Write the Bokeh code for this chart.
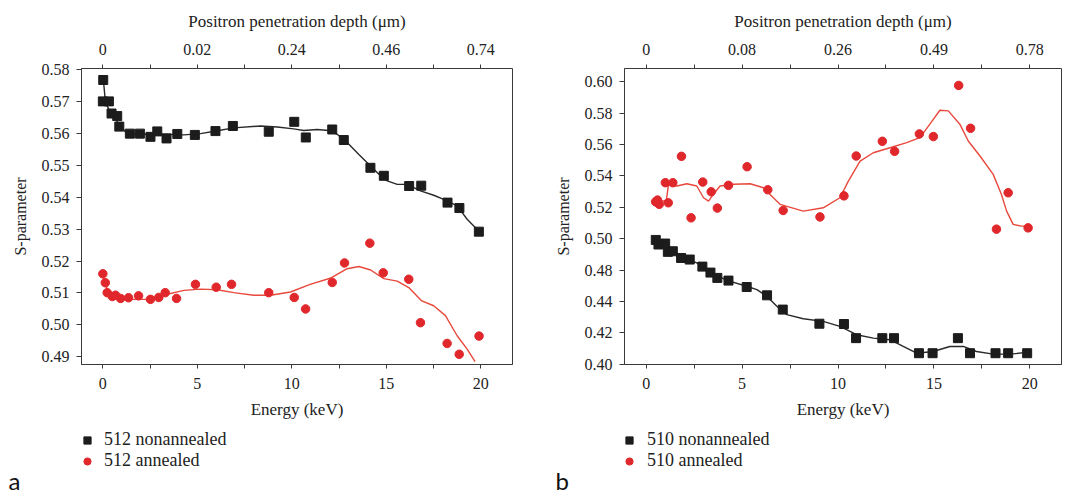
from bokeh.plotting import figure
from bokeh.layouts import row, column
from bokeh.models import (LinearAxis, FixedTicker, Legend, LegendItem, Label, Range1d)
from bokeh.embed import file_html
from bokeh.resources import INLINE

# ---------------- Panel a (sample 512) ----------------
e512_na = [0.02, 0.0, 0.32, 0.46, 0.76, 0.87, 1.43, 1.96, 2.52, 2.88, 3.37, 3.94, 4.87, 5.96,
           6.88, 8.78, 10.13, 10.74, 12.14, 12.75, 14.16, 14.87, 16.21, 16.85, 18.24, 18.87, 19.9]
s512_na = [0.5767, 0.570, 0.570, 0.5662, 0.5654, 0.5621, 0.5599, 0.5599, 0.5589, 0.5606, 0.5584,
           0.5598, 0.5595, 0.5607, 0.5623, 0.5605, 0.5636, 0.5587, 0.5612, 0.5579, 0.5492, 0.5467,
           0.5435, 0.5436, 0.5383, 0.5366, 0.5292]
e512_a = [0.0, 0.13, 0.23, 0.5, 0.67, 0.94, 1.36, 1.89, 2.52, 2.96, 3.3, 3.9, 4.9, 6.0, 6.81,
          8.78, 10.13, 10.73, 12.14, 12.79, 14.13, 14.84, 16.19, 16.81, 18.22, 18.86, 19.91]
s512_a = [0.5160, 0.5132, 0.5101, 0.5089, 0.5093, 0.5083, 0.5085, 0.5091, 0.5080, 0.5086, 0.5101,
          0.5083, 0.5127, 0.5118, 0.5127, 0.5101, 0.5086, 0.5050, 0.5133, 0.5194, 0.5256, 0.5163,
          0.5143, 0.5007, 0.4942, 0.4908, 0.4965]
# fitted curves
fit512_na_e = [0.05, 0.14, 0.32, 0.58, 0.85, 1.2, 1.64, 2.52, 3.41, 4.29, 5.17, 6.05, 6.93, 8.34,
               9.23, 10.1, 10.63, 11.34, 11.96, 12.4, 12.93, 13.55, 13.99, 14.52, 15.05, 15.58,
               16.1, 16.81, 17.51, 18.04, 18.75, 19.28, 19.81]
fit512_na_s = [0.5753, 0.5696, 0.5675, 0.5654, 0.5628, 0.5604, 0.5597, 0.5597, 0.5597, 0.5595,
               0.5599, 0.5608, 0.5617, 0.5623, 0.5620, 0.5614, 0.5609, 0.5612, 0.5609, 0.5597,
               0.5571, 0.5534, 0.5508, 0.5477, 0.5451, 0.5440, 0.5440, 0.5420, 0.5406, 0.5393,
               0.5373, 0.5331, 0.5299]
fit512_a_e = [0.0, 0.16, 0.32, 0.74, 1.29, 2.52, 3.41, 4.29, 5.17, 6.05, 6.93, 7.99, 8.87, 9.93,
              10.97, 12.03, 12.93, 13.55, 14.17, 14.87, 15.58, 16.19, 16.88, 17.51, 18.13, 18.75,
              19.28, 19.7]
fit512_a_s = [0.5154, 0.5122, 0.5101, 0.5086, 0.5080, 0.5080, 0.5096, 0.5108, 0.5112, 0.5110,
              0.5101, 0.5093, 0.5093, 0.5103, 0.5127, 0.5146, 0.5176, 0.5183, 0.5172, 0.5145,
              0.5137, 0.5117, 0.5075, 0.5060, 0.5029, 0.4966, 0.4924, 0.4885]

# ---------------- Panel b (sample 510) ----------------
# vertical values are positions on panel b's printed scale (its labels skip 0.46)
e510_na = [0.5, 0.64, 0.99, 1.13, 1.39, 1.82, 2.27, 2.93, 3.35, 3.71, 4.29, 5.24, 6.3, 7.12,
           9.03, 10.31, 10.94, 12.31, 12.92, 14.22, 14.93, 16.25, 16.88, 18.21, 18.87, 19.86]
s510_na = [0.4992, 0.4963, 0.4969, 0.4916, 0.4920, 0.4877, 0.4867, 0.4822, 0.4784, 0.4750,
           0.4733, 0.4692, 0.4639, 0.4548, 0.4458, 0.4456, 0.4366, 0.4366, 0.4366, 0.4270,
           0.4270, 0.4366, 0.4270, 0.4270, 0.4270, 0.4270]
e510_a = [0.49, 0.59, 0.68, 1.0, 1.15, 1.39, 1.84, 2.34, 2.95, 3.39, 3.71, 4.29, 5.26, 6.34,
          7.14, 9.06, 10.31, 10.95, 12.31, 12.95, 14.24, 14.97, 16.29, 16.91, 18.26, 18.87, 19.91]
s510_a = [0.5235, 0.5246, 0.5219, 0.5357, 0.5229, 0.5357, 0.5525, 0.5133, 0.5361, 0.5299,
          0.5195, 0.5340, 0.5459, 0.5312, 0.5180, 0.5139, 0.5273, 0.5527, 0.5621, 0.5557,
          0.5668, 0.5651, 0.5977, 0.5704, 0.5061, 0.5293, 0.5069]
fit510_na_e = [0.5, 1.08, 1.77, 2.64, 3.51, 4.38, 5.24, 5.77, 6.29, 6.81, 7.33, 8.19, 9.23, 10.1,
               10.97, 11.84, 12.71, 13.4, 14.1, 14.96, 15.83, 16.53, 17.22, 18.09, 18.96, 19.86]
fit510_na_s = [0.4984, 0.4941, 0.4889, 0.4846, 0.4771, 0.4728, 0.4697, 0.4675, 0.4633, 0.4569,
               0.4516, 0.4490, 0.4473, 0.4441, 0.4388, 0.4366, 0.4356, 0.4313, 0.4270, 0.4281,
               0.4313, 0.4313, 0.4281, 0.4264, 0.4264, 0.4275]
fit510_a_e = [0.56, 0.9, 1.05, 1.16, 1.6, 2.12, 2.64, 2.99, 3.25, 3.5, 3.85, 4.55, 5.42, 6.11,
              6.63, 6.98, 8.19, 9.23, 10.1, 10.54, 11.15, 11.84, 12.71, 13.58, 14.27, 14.79,
              15.31, 15.75, 16.35, 16.79, 17.4, 18.09, 18.52, 18.79, 19.13, 19.57, 19.91]
fit510_a_s = [0.5244, 0.5240, 0.5245, 0.5342, 0.5336, 0.5350, 0.5336, 0.5261, 0.5240, 0.5282,
              0.5336, 0.5347, 0.5350, 0.5325, 0.5261, 0.5219, 0.5176, 0.5197, 0.5261, 0.5367,
              0.5495, 0.5548, 0.5580, 0.5612, 0.5644, 0.5730, 0.5819, 0.5815, 0.5730, 0.5623,
              0.5527, 0.5410, 0.5282, 0.5176, 0.5091, 0.5080, 0.5080]

# ticks and labels
energy_ticks = [0, 5, 10, 15, 20]
energy_minor = [2.5, 7.5, 12.5, 17.5]
depth_labels_a = ["0", "0.02", "0.24", "0.46", "0.74"]
depth_labels_b = ["0", "0.08", "0.26", "0.49", "0.78"]
s_ticks_a = [0.49, 0.50, 0.51, 0.52, 0.53, 0.54, 0.55, 0.56, 0.57, 0.58]
s_labels_a = ["0.49", "0.50", "0.51", "0.52", "0.53", "0.54", "0.55", "0.56", "0.57", "0.58"]
s_ticks_b = [0.42, 0.44, 0.46, 0.48, 0.50, 0.52, 0.54, 0.56, 0.58, 0.60]
s_labels_b = ["0.40", "0.42", "0.44", "0.48", "0.50", "0.52", "0.54", "0.56", "0.58", "0.60"]

SERIF = "Liberation Serif"
BLACK = "#1c1c1c"
RED_M = "#e0282c"
RED_L = "#e8493d"
AXC = "#3a3a3a"
TXT = "#222222"


def style_axis(ax, size="16px"):
    ax.major_label_text_font = SERIF
    ax.major_label_text_font_size = size
    ax.major_label_text_color = TXT
    ax.axis_label_text_font = SERIF
    ax.axis_label_text_font_size = "17px"
    ax.axis_label_text_font_style = "normal"
    ax.axis_label_text_color = TXT
    ax.axis_line_color = AXC
    ax.major_tick_line_color = AXC
    ax.minor_tick_line_color = AXC
    ax.major_tick_in = 0
    ax.minor_tick_in = 0


def make_panel(xr, yr, fw, fh, bl, br, bt, bb, s_ticks, s_labels, depth_labels,
               na_e, na_s, a_e, a_s, fna_e, fna_s, fa_e, fa_s):
    p = figure(frame_width=fw, frame_height=fh, x_range=Range1d(*xr), y_range=Range1d(*yr),
               output_backend="svg", toolbar_location=None, x_axis_location=None,
               y_axis_location=None)
    p.min_border_left = bl
    p.min_border_right = br
    p.min_border_top = bt
    p.min_border_bottom = bb
    p.xgrid.visible = False
    p.ygrid.visible = False
    p.background_fill_color = "white"
    p.border_fill_color = "white"
    p.outline_line_color = AXC
    p.outline_line_width = 1

    xb = LinearAxis(ticker=FixedTicker(ticks=energy_ticks, minor_ticks=energy_minor),
                    axis_label="Energy (keV)")
    style_axis(xb)
    xb.major_tick_out = 4
    xb.minor_tick_out = 4
    xb.major_label_standoff = 9
    xb.axis_label_standoff = 8
    p.add_layout(xb, "below")

    xt = LinearAxis(ticker=FixedTicker(ticks=energy_ticks, minor_ticks=energy_minor),
                    axis_label="Positron penetration depth (\u03bcm)",
                    major_label_overrides={t: l for t, l in zip(energy_ticks, depth_labels)})
    style_axis(xt)
    xt.axis_line_color = None
    xt.major_tick_out = 4
    xt.minor_tick_out = 4
    xt.major_label_standoff = 10
    xt.axis_label_standoff = 10
    p.add_layout(xt, "above")

    yl = LinearAxis(ticker=FixedTicker(ticks=s_ticks, minor_ticks=[]),
                    axis_label="S-parameter",
                    major_label_overrides={t: l for t, l in zip(s_ticks, s_labels)})
    style_axis(yl)
    yl.axis_label_text_font_size = "16px"
    yl.major_tick_out = 5
    yl.major_label_standoff = 7
    yl.axis_label_standoff = 10
    p.add_layout(yl, "left")

    p.line(fna_e, fna_s, line_color="#2a2a2a", line_width=1.4)
    p.line(fa_e, fa_s, line_color=RED_L, line_width=1.4)
    p.scatter(na_e, na_s, marker="square", size=9, fill_color=BLACK, line_color=BLACK)
    p.scatter(a_e, a_s, marker="circle", size=8.5, fill_color=RED_M, line_color=RED_M)
    return p


def make_key(name, letter, leg_xy, standoff, letter_xy, na_e, na_s, a_e, a_s):
    # strip under each panel holding the legend and the panel letter (pixel coordinates)
    k = figure(width=536, height=72, x_range=Range1d(0, 536), y_range=Range1d(0, 72),
               output_backend="svg", toolbar_location=None, min_border=0,
               x_axis_location=None, y_axis_location=None)
    k.xgrid.visible = False
    k.ygrid.visible = False
    k.outline_line_color = None
    k.background_fill_color = "white"
    k.border_fill_color = "white"
    # hidden proxies of the two series, used only to draw the legend symbols
    r_na = k.scatter(na_e, na_s, marker="square", size=9, fill_color=BLACK, line_color=BLACK,
                     visible=False)
    r_a = k.scatter(a_e, a_s, marker="circle", size=8.5, fill_color=RED_M, line_color=RED_M,
                    visible=False)
    leg = Legend(items=[LegendItem(label=f"{name} nonannealed", renderers=[r_na]),
                        LegendItem(label=f"{name} annealed", renderers=[r_a])],
                 location=leg_xy, orientation="vertical")
    leg.padding = 0
    leg.margin = 0
    leg.border_line_color = None
    leg.background_fill_alpha = 0
    leg.glyph_width = 18
    leg.glyph_height = 18
    leg.label_height = 18
    leg.label_standoff = standoff
    leg.spacing = -2
    leg.label_text_font = SERIF
    leg.label_text_font_size = "18px"
    leg.label_text_color = TXT
    leg.inactive_fill_alpha = 0
    k.add_layout(leg)
    lab = Label(x=letter_xy[0], y=letter_xy[1], text=letter, text_font="Lato",
                text_font_size="24px", text_baseline="bottom", text_color="#111111")
    k.add_layout(lab)
    return k


pa = make_panel((-1.13, 21.68), (0.4876, 0.5803), 431, 296, 81, 24, 66, 63,
                s_ticks_a, s_labels_a, depth_labels_a,
                e512_na, s512_na, e512_a, s512_a,
                fit512_na_e, fit512_na_s, fit512_a_e, fit512_a_s)
pb = make_panel((-1.13, 21.65), (0.4198, 0.6085), 437, 296, 88, 11, 68, 61,
                s_ticks_b, s_labels_b, depth_labels_b,
                e510_na, s510_na, e510_a, s510_a,
                fit510_na_e, fit510_na_s, fit510_a_e, fit510_a_s)
ka = make_key("512", "a", (78, 26), 8, (8, 3), e512_na, s512_na, e512_a, s512_a)
kb = make_key("510", "b", (84, 26), 9, (19, 3), e510_na, s510_na, e510_a, s510_a)

layout = column(row(pa, pb, spacing=0), row(ka, kb, spacing=0), spacing=0)
open("out.html", "w").write(file_html(layout, INLINE))
